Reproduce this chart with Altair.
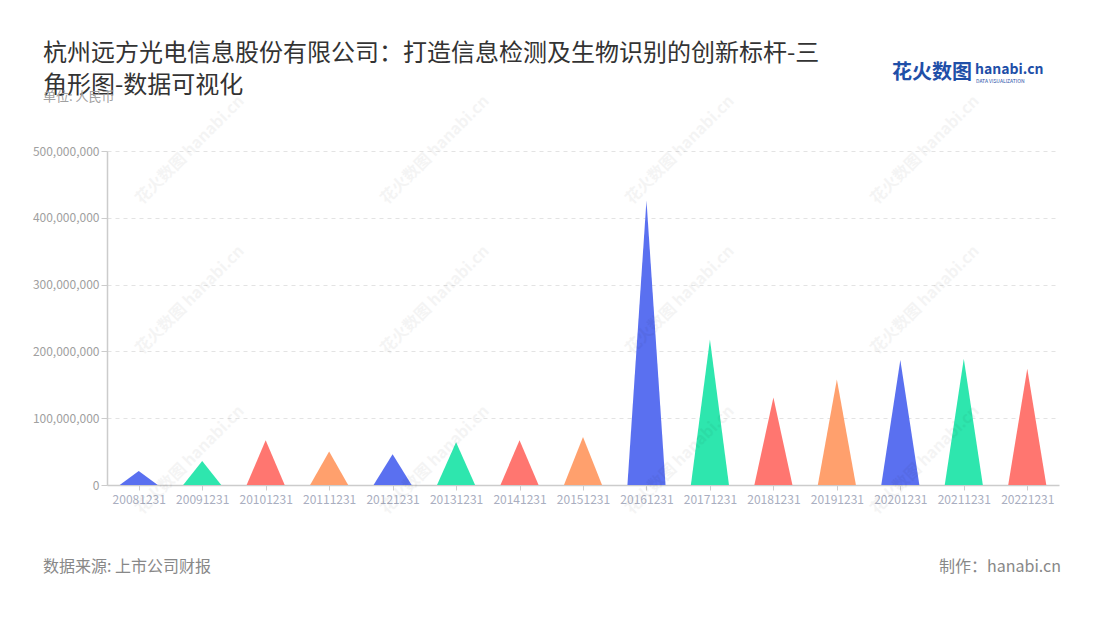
import altair as alt
import pandas as pd

categories = ["20081231", "20091231", "20101231", "20111231", "20121231",
              "20131231", "20141231", "20151231", "20161231", "20171231",
              "20181231", "20191231", "20201231", "20211231", "20221231"]
values = [21000000, 36000000, 67000000, 50000000, 46000000,
          64000000, 67000000, 72000000, 426000000, 218000000,
          131000000, 158000000, 187000000, 189000000, 174000000]
palette = ["#5A70F0", "#2EE6AE", "#FF7670", "#FFA06D"]
y_ticks = [0, 100000000, 200000000, 300000000, 400000000, 500000000]

title_lines = ["杭州远方光电信息股份有限公司：打造信息检测及生物识别的创新标杆-三", "角形图-数据可视化"]
subtitle = "单位: 人民币"
source_text = "数据来源: 上市公司财报"
credit_text = "制作：hanabi.cn"

FONT = "Noto Sans CJK SC"
W, H = 952, 334
HALF = 0.3

rows = []
for i, (c, v) in enumerate(zip(categories, values)):
    rows.append({"cat": c, "pos": i - HALF, "val": 0})
    rows.append({"cat": c, "pos": i, "val": v})
    rows.append({"cat": c, "pos": i + HALF, "val": 0})
df = pd.DataFrame(rows)

colors = [palette[i % len(palette)] for i in range(len(categories))]
label_expr = "[" + ",".join(f"'{c}'" for c in categories) + "][datum.value]"

x_enc = alt.X("pos:Q", scale=alt.Scale(domain=[-0.5, len(categories) - 0.5], nice=False, zero=False),
              axis=alt.Axis(values=list(range(len(categories))), labelExpr=label_expr, title=None,
                            grid=False, domainColor="#cccccc", domainWidth=1.5, tickColor="#cccccc",
                            tickSize=5, labelColor="#a9aec0", labelFont=FONT, labelFontSize=12,
                            labelPadding=4, labelFlush=False))
y_enc = alt.Y("val:Q", stack=None, scale=alt.Scale(domain=[0, 500000000], nice=False),
              axis=alt.Axis(values=y_ticks, format=",d", title=None, grid=True, gridDash=[4, 4],
                            gridColor="#e3e3e3", domainColor="#cccccc", domainWidth=1.5,
                            tickColor="#cccccc", tickSize=6, labelColor="#a0a0a0",
                            labelFont=FONT, labelFontSize=12, labelPadding=2))

area = alt.Chart(df).mark_area(opacity=1, interpolate="linear").encode(
    x=x_enc, y=y_enc,
    color=alt.Color("cat:N", scale=alt.Scale(domain=categories, range=colors), legend=None),
)

OX, OY = 107, 151

def txt(text, px, py, size, color, align="left", baseline="middle", weight="normal", angle=0, opacity=1):
    return alt.Chart(pd.DataFrame({"t": [text]})).mark_text(
        align=align, baseline=baseline, font=FONT, fontSize=size, color=color,
        fontWeight=weight, angle=angle, opacity=opacity
    ).encode(text="t:N", x=alt.value(px - OX), y=alt.value(py - OY))

layers = [area]
wm_pos = [(160, 160), (405, 160), (650, 160), (895, 160),
          (160, 310), (405, 310), (650, 310), (895, 310),
          (160, 470), (405, 470), (650, 470), (895, 470)]
for (wx, wy) in wm_pos:
    layers.append(txt("花火数图 hanabi.cn", wx + 30, wy - 10, 16, "#000000", align="center",
                      weight="bold", angle=315, opacity=0.04))

layers.append(txt(title_lines[0], 43, 54, 24, "#333333"))
layers.append(txt(title_lines[1], 43, 86, 24, "#333333"))
layers.append(txt(subtitle, 43, 97, 13, "#a0a0a0"))
layers.append(txt(source_text, 43, 567, 16, "#888888"))
layers.append(txt(credit_text, 1061, 567, 16, "#888888", align="right"))
layers.append(txt("花火数图", 892, 73, 20, "#1f4fa8", weight="bold"))
layers.append(txt("hanabi.cn", 975, 70, 14, "#1f4fa8", weight="bold"))
layers.append(txt("DATA VISUALIZATION", 976, 81, 5, "#1f4fa8"))

chart = alt.layer(*layers).properties(
    width=W, height=H,
    background="white",
    autosize=alt.AutoSizeParams(type="none"),
    padding={"left": OX - 8, "top": OY - 8, "right": 20, "bottom": 120},
).configure_view(stroke="transparent", strokeWidth=0)

chart.save("out.html", embed_options={"renderer": "svg", "actions": False})
